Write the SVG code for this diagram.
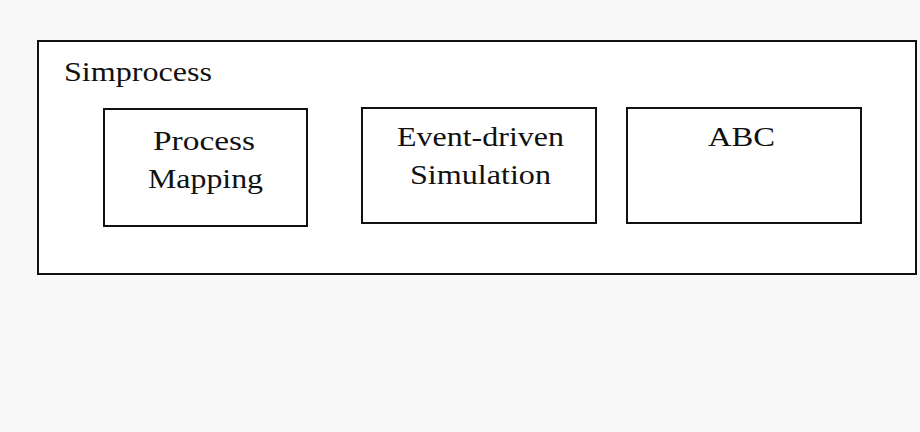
<svg xmlns="http://www.w3.org/2000/svg" width="920" height="432" viewBox="0 0 920 432">
<style>
.b{fill:#fff;stroke:#111;stroke-width:2}
.t{font-family:"Liberation Serif",serif;font-size:28px;fill:#111}
</style>
<rect width="920" height="432" fill="#f8f8f8"/>
<g id="simprocess"><rect class="b" x="38" y="41" width="878" height="233"/><text class="t" x="64" y="81" textLength="148" lengthAdjust="spacingAndGlyphs">Simprocess</text></g>
<g id="process-mapping"><rect class="b" x="104" y="109" width="203" height="117"/><text class="t" x="153" y="150" textLength="102" lengthAdjust="spacingAndGlyphs">Process</text><text class="t" x="148" y="188" textLength="115" lengthAdjust="spacingAndGlyphs">Mapping</text></g>
<g id="event-driven"><rect class="b" x="362" y="108" width="234" height="115"/><text class="t" x="397" y="146" textLength="167" lengthAdjust="spacingAndGlyphs">Event-driven</text><text class="t" x="410" y="184" textLength="141" lengthAdjust="spacingAndGlyphs">Simulation</text></g>
<g id="abc"><rect class="b" x="627" y="108" width="234" height="115"/><text class="t" x="708" y="146" textLength="67" lengthAdjust="spacingAndGlyphs">ABC</text></g>
<g id="connectors"/>
</svg>
